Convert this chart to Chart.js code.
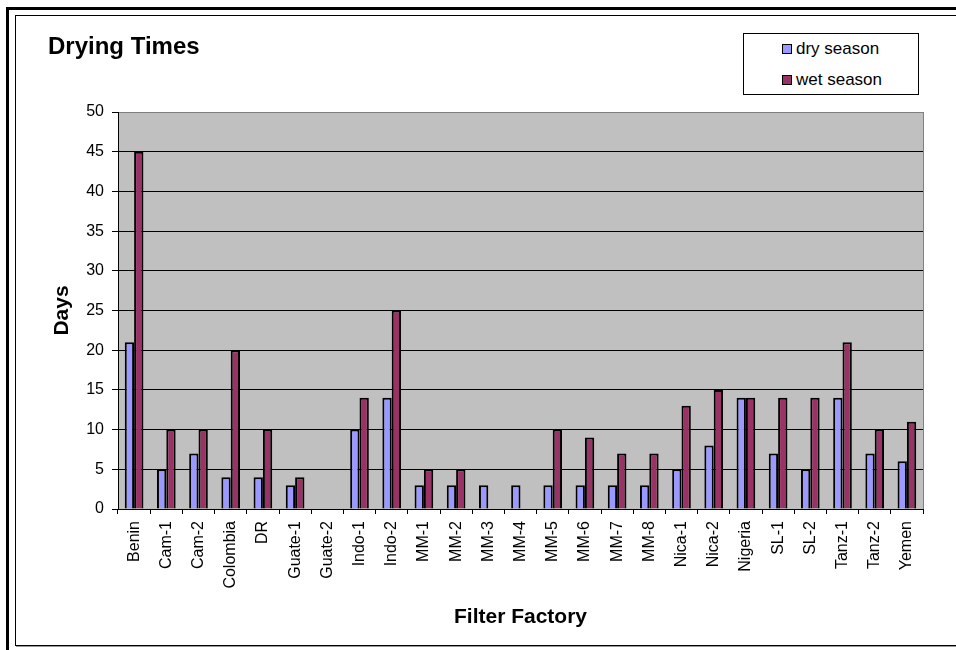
<!DOCTYPE html>
<html>
<head>
<meta charset="utf-8">
<title>Drying Times</title>
<script src="https://cdn.jsdelivr.net/npm/chart.js@4.4.1/dist/chart.umd.min.js"></script>
<style>
  html, body { margin: 0; padding: 0; background: #fff; overflow: hidden; }
  #wrap { position: relative; width: 956px; height: 650px; overflow: hidden; }
  .frame-outer { position: absolute; left: 6px; top: 7px; width: 1200px; height: 1200px; border: 3px solid #000; }
  .frame-inner { position: absolute; left: 15px; top: 15px; width: 1000px; height: 629px; border: 1px solid #000; box-shadow: 1px 1px 0 #999; }
  #dryingChart { position: absolute; left: 0; top: 0; }
  #legend { position: absolute; left: 743px; top: 33px; width: 174px; height: 60px; border: 1px solid #000; background: #fff;
            font: 17px 'Liberation Sans', Arial, sans-serif; color: #000; }
  #legend .item { position: absolute; left: 38px; height: 20px; line-height: 20px; display: flex; align-items: center; white-space: nowrap; }
  #legend .swatch { width: 8px; height: 8px; border: 1.5px solid #000; margin-right: 4px; }
</style>
</head>
<body>
<div id="wrap">
  <div class="frame-outer"></div>
  <div class="frame-inner"></div>
  <canvas id="dryingChart" width="956" height="650"></canvas>
  <div id="legend"></div>
</div>
<script>
// Drying times per filter factory (days)
const factories = ['Benin', 'Cam-1', 'Cam-2', 'Colombia', 'DR', 'Guate-1', 'Guate-2', 'Indo-1', 'Indo-2',
    'MM-1', 'MM-2', 'MM-3', 'MM-4', 'MM-5', 'MM-6', 'MM-7', 'MM-8', 'Nica-1', 'Nica-2', 'Nigeria',
    'SL-1', 'SL-2', 'Tanz-1', 'Tanz-2', 'Yemen'];
const drySeason = [21, 5, 7, 4, 4, 3, 0, 10, 14, 3, 3, 3, 3, 3, 3, 3, 3, 5, 8, 14, 7, 5, 14, 7, 6];
const wetSeason = [45, 10, 10, 20, 10, 4, 0, 14, 25, 5, 5, 0, 0, 10, 9, 7, 7, 13, 15, 14, 14, 14, 21, 10, 11];
const dayMax = 50;
const dayStep = 5;

Chart.defaults.font.family = "'Liberation Sans', Arial, sans-serif";
Chart.defaults.color = '#000';

// grey plot area with a grey outline on the right
const plotBackground = {
    id: 'plotBackground',
    beforeDraw(chart) {
        const { ctx, chartArea: a } = chart;
        ctx.save();
        ctx.fillStyle = '#c0c0c0';
        ctx.fillRect(a.left, a.top, a.right - a.left, a.bottom - a.top);
        ctx.restore();
    },
    afterDraw(chart) {
        const { ctx, chartArea: a } = chart;
        ctx.save();
        ctx.strokeStyle = '#808080';
        ctx.lineWidth = 1;
        ctx.beginPath();
        ctx.moveTo(Math.round(a.right) + 0.5, a.top);
        ctx.lineTo(Math.round(a.right) + 0.5, a.bottom);
        ctx.stroke();
        ctx.restore();
    }
};

// chart heading in the top left corner
const chartHeading = {
    id: 'chartHeading',
    afterDraw(chart) {
        const ctx = chart.ctx;
        ctx.save();
        ctx.font = "bold 24px 'Liberation Sans', Arial, sans-serif";
        ctx.fillStyle = '#000';
        ctx.textBaseline = 'alphabetic';
        ctx.fillText('Drying Times', 48, 54);
        ctx.restore();
    }
};

const chart = new Chart(document.getElementById('dryingChart'), {
    type: 'bar',
    data: {
        labels: factories,
        datasets: [
            {
                label: 'dry season',
                data: drySeason,
                backgroundColor: '#9999ff',
                borderColor: '#000',
                borderWidth: 2,
                borderSkipped: 'bottom'
            },
            {
                label: 'wet season',
                data: wetSeason,
                backgroundColor: '#993366',
                borderColor: '#000',
                borderWidth: 2,
                borderSkipped: 'bottom'
            }
        ]
    },
    options: {
        responsive: false,
        animation: false,
        layout: { padding: { left: 40, top: 112, right: 33, bottom: 16 } },
        datasets: { bar: { categoryPercentage: 0.58, barPercentage: 1 } },
        plugins: {
            legend: { display: false },
            title: { display: false }
        },
        scales: {
            x: {
                ticks: { color: '#000', minRotation: 90, maxRotation: 90, autoSkip: false, padding: 7, font: { size: 16 } },
                grid: { drawOnChartArea: false, tickLength: 5, color: '#000' },
                border: { color: '#000' },
                title: {
                    display: true, text: 'Filter Factory', color: '#000',
                    font: { size: 21, weight: 'bold' }, padding: { top: 0, bottom: 4 }
                },
                afterFit(scale) { scale.height = 125; }
            },
            y: {
                min: 0,
                max: dayMax,
                ticks: { stepSize: dayStep, color: '#000', padding: 8, font: { size: 16 } },
                grid: {
                    color: (c) => (c.tick && c.tick.value === dayMax ? '#808080' : '#000'),
                    tickColor: '#000',
                    tickLength: 6
                },
                border: { color: '#000' },
                title: {
                    display: true, text: 'Days', color: '#000',
                    font: { size: 21, weight: 'bold' }, padding: { top: 10, bottom: 0 }
                },
                afterFit(scale) { scale.width = 78; }
            }
        }
    },
    plugins: [plotBackground, chartHeading]
});

// legend box built from the datasets
const legend = document.getElementById('legend');
chart.data.datasets.forEach((ds, i) => {
    const item = document.createElement('div');
    item.className = 'item';
    item.style.top = (5 + i * 31) + 'px';
    const swatch = document.createElement('span');
    swatch.className = 'swatch';
    swatch.style.background = ds.backgroundColor;
    item.appendChild(swatch);
    item.appendChild(document.createTextNode(ds.label));
    legend.appendChild(item);
});
</script>
</body>
</html>
